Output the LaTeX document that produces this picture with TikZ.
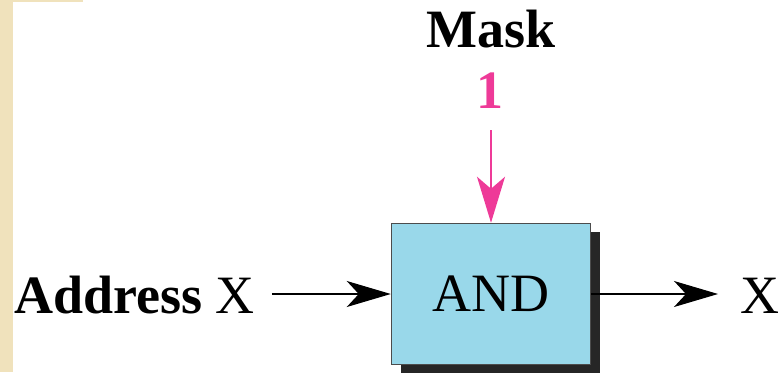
\documentclass[tikz,border=0pt]{standalone}
\usepackage{fontspec}
\setmainfont{Liberation Serif}
\usetikzlibrary{arrows.meta,shadows}
\definecolor{beige}{RGB}{240,226,188}
\definecolor{boxblue}{RGB}{153,216,234}
\definecolor{maskpink}{RGB}{238,58,152}
\tikzset{
  lbl/.style={inner sep=0pt, font=\fontsize{54}{60}\selectfont},
  gatebox/.style={draw=black!70, line width=1.5pt, fill=boxblue, minimum width=199pt, minimum height=141pt, inner sep=0pt,
    drop shadow={shadow xshift=9pt, shadow yshift=-8pt, fill=black!85, opacity=1}},
  blackarrow/.style={line width=1.1pt, -{Stealth[length=44pt,width=26pt,inset=12pt]}},
  pinkarrow/.style={draw=maskpink, line width=1.5pt, -{Stealth[length=46pt,width=28pt,inset=12pt]}, maskpink},
}
\begin{document}
\begin{tikzpicture}[x=1pt,y=-1pt]
\useasboundingbox (0,0) rectangle (784,372);
\fill[white] (0,0) rectangle (784,372);
\fill[beige] (0,0) rectangle (13,372);
\fill[beige] (13,0) rectangle (83,2);
\node[gatebox, lbl] (box) at (491,294) {AND};
\node[lbl, anchor=base, font=\fontsize{54}{60}\selectfont\bfseries] (mask) at (491,47) {Mask};
\node[lbl, anchor=base, text=maskpink, font=\fontsize{54}{60}\selectfont\bfseries] (one) at (490,108) {1};
\node[lbl, anchor=base west] (addr) at (14,313) {\textbf{Address} X};
\node[lbl, anchor=base west] (xout) at (740,313) {X};
\draw[pinkarrow] ([yshift=-22pt]one.south -| box.north) -- (box.north);
\draw[blackarrow] ([xshift=17pt]addr.east |- box.west) -- (box.west);
\draw[blackarrow] (box.east) -- ([xshift=-22pt]box.east -| xout.west);
\end{tikzpicture}
\end{document}
